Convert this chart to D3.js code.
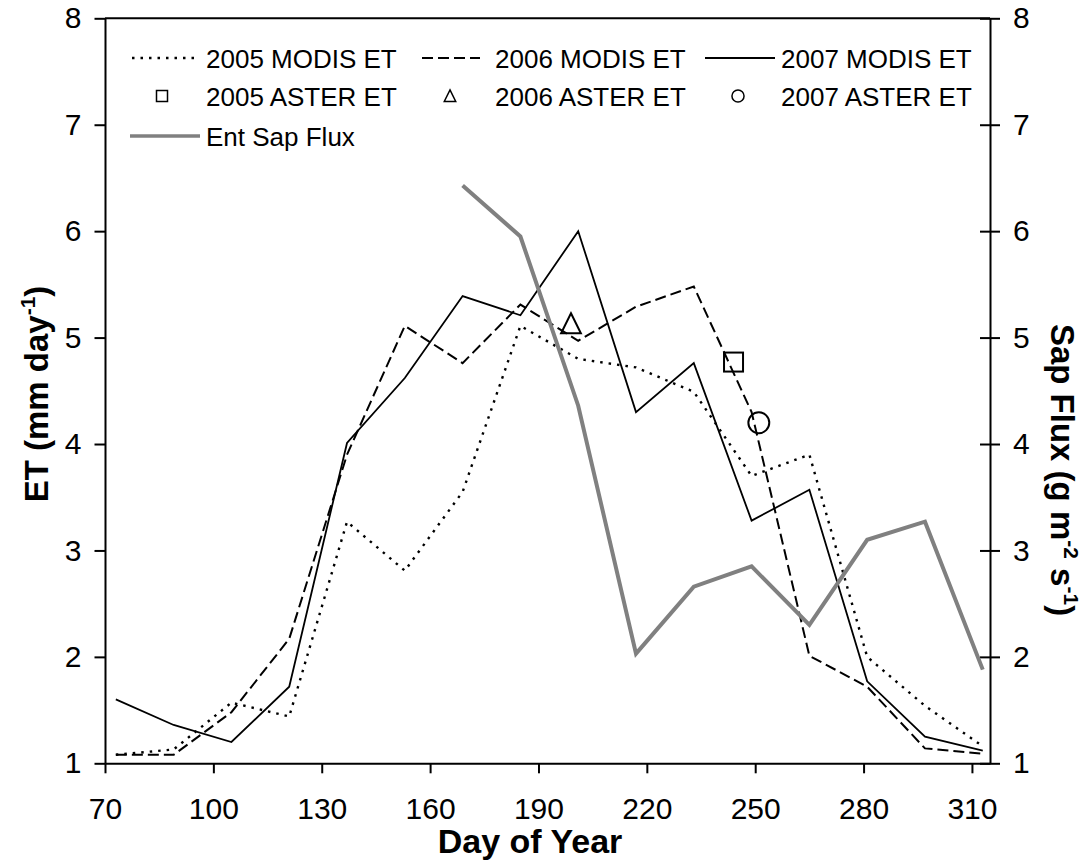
<!DOCTYPE html>
<html lang="en">
<head>
  <meta charset="UTF-8">
  <title>MODIS / ASTER ET and Sap Flux</title>
  <script src="https://d3js.org/d3.v7.min.js"></script>
  <style>
    body {
      margin: 0;
      padding: 0;
      background: #fff;
    }
    svg text {
      font-family: Arial, "Liberation Sans", sans-serif;
      fill: #000;
    }
  </style>
</head>
<body>
  <div id="vis"></div>

  <script>
    // 8-day composite days
    const days = [73, 89, 105, 121, 137, 153, 169, 185, 201, 217, 233, 249, 265, 281, 297, 313];
    const modis2005 = [1.08, 1.13, 1.57, 1.44, 3.27, 2.81, 3.55, 5.11, 4.80, 4.72, 4.49, 3.70, 3.90, 2.00, 1.54, 1.16];
    const modis2006 = [1.08, 1.08, 1.48, 2.17, 3.90, 5.11, 4.76, 5.31, 4.97, 5.29, 5.48, 4.30, 2.01, 1.72, 1.14, 1.09];
    const modis2007 = [1.60, 1.36, 1.20, 1.72, 4.01, 4.62, 5.39, 5.21, 6.00, 4.30, 4.76, 3.28, 3.57, 1.77, 1.25, 1.12];

    const sapDays = [169, 185, 201, 217, 233, 249, 265, 281, 297, 313];
    const sapFlux = [6.43, 5.95, 4.36, 2.03, 2.66, 2.85, 2.30, 3.10, 3.27, 1.88];

    const aster = [
      { year: "2005", day: 244, et: 4.77, shape: "square" },
      { year: "2006", day: 199, et: 5.13, shape: "triangle" },
      { year: "2007", day: 251, et: 4.20, shape: "circle" }
    ];

    const xTicks = [70, 100, 130, 160, 190, 220, 250, 280, 310];
    const yTicks = [1, 2, 3, 4, 5, 6, 7, 8];

    const width = 1090, height = 862;
    const plotLeft = 105, plotRight = 990, plotTop = 18.3, plotBottom = 763.3;

    const svg = d3.select("#vis").append("svg")
      .attr("width", width)
      .attr("height", height);

    const x = d3.scaleLinear().domain([70, 315]).range([plotLeft, plotRight]);
    const y = d3.scaleLinear().domain([1, 8]).range([plotBottom, plotTop]);
    const y2 = d3.scaleLinear().domain([1, 8]).range([plotBottom, plotTop]);

    const lineStyles = {
      dotted: { dash: "2.5,6", width: 2.4, color: "#000" },
      dashed: { dash: "11,5", width: 2, color: "#000" },
      solid: { dash: null, width: 1.8, color: "#000" },
      sap: { dash: null, width: 4, color: "#808080" }
    };

    // axes
    const axisFont = "30px";
    const fmt = d3.format("d");
    const gLeft = svg.append("g")
      .attr("transform", `translate(${plotLeft},0)`)
      .call(d3.axisLeft(y).tickValues(yTicks).tickFormat(fmt).tickSize(10.5).tickSizeOuter(0).tickPadding(13));
    const gRight = svg.append("g")
      .attr("transform", `translate(${plotRight},0)`)
      .call(d3.axisRight(y2).tickValues(yTicks).tickFormat(fmt).tickSize(10).tickSizeOuter(0).tickPadding(13));
    gRight.selectAll(".tick line").attr("x1", -10);
    const gBottom = svg.append("g")
      .attr("transform", `translate(0,${plotBottom})`)
      .call(d3.axisBottom(x).tickValues(xTicks).tickFormat(fmt).tickSize(10).tickSizeOuter(0).tickPadding(24.5));

    [gLeft, gRight, gBottom].forEach(g => {
      g.select(".domain").attr("stroke", "#000").attr("stroke-width", 2);
      g.selectAll(".tick line").attr("stroke", "#000").attr("stroke-width", 2);
      g.selectAll(".tick text")
        .style("font-size", axisFont)
        .style("font-family", "Arial, 'Liberation Sans', sans-serif")
        .attr("fill", "#000");
    });

    svg.append("line")
      .attr("x1", plotLeft).attr("x2", plotRight)
      .attr("y1", plotTop).attr("y2", plotTop)
      .attr("stroke", "#000").attr("stroke-width", 2);

    // axis titles
    const titleFont = "33px";
    const supFont = "21px";
    const yTitle = svg.append("text")
      .attr("transform", "translate(48,394) rotate(-90)")
      .attr("text-anchor", "middle")
      .style("font-size", titleFont)
      .style("font-weight", "bold");
    yTitle.append("tspan").text("ET (mm day");
    yTitle.append("tspan").attr("dy", -13).style("font-size", supFont).text("-1");
    yTitle.append("tspan").attr("dy", 13).text(")");

    const y2Title = svg.append("text")
      .attr("transform", "translate(1051,470) rotate(90)")
      .attr("text-anchor", "middle")
      .style("font-size", titleFont)
      .style("font-weight", "bold");
    y2Title.append("tspan").text("Sap Flux (g m");
    y2Title.append("tspan").attr("dy", -13).style("font-size", supFont).text("-2");
    y2Title.append("tspan").attr("dy", 13).text(" s");
    y2Title.append("tspan").attr("dy", -13).style("font-size", supFont).text("-1");
    y2Title.append("tspan").attr("dy", 13).text(")");

    svg.append("text")
      .attr("x", 530)
      .attr("y", 853)
      .attr("text-anchor", "middle")
      .style("font-size", "34px")
      .style("font-weight", "bold")
      .text("Day of Year");

    // series
    const etLine = d3.line().x(d => x(d[0])).y(d => y(d[1]));
    const sapLine = d3.line().x(d => x(d[0])).y(d => y2(d[1]));

    function drawLine(pts, gen, st) {
      svg.append("path")
        .attr("d", gen(pts))
        .attr("fill", "none")
        .attr("stroke", st.color)
        .attr("stroke-width", st.width)
        .attr("stroke-dasharray", st.dash)
        .attr("stroke-linejoin", "miter");
    }

    drawLine(days.map((d, i) => [d, modis2005[i]]), etLine, lineStyles.dotted);
    drawLine(days.map((d, i) => [d, modis2006[i]]), etLine, lineStyles.dashed);
    drawLine(days.map((d, i) => [d, modis2007[i]]), etLine, lineStyles.solid);

    function drawMarker(g, shape, cx, cy, s) {
      if (shape === "square") {
        g.append("rect")
          .attr("x", cx - s / 2).attr("y", cy - s / 2)
          .attr("width", s).attr("height", s);
      } else if (shape === "triangle") {
        g.append("path")
          .attr("d", `M${cx},${cy - s * 0.55}L${cx + s * 0.52},${cy + s * 0.5}L${cx - s * 0.52},${cy + s * 0.5}Z`);
      } else {
        g.append("circle").attr("cx", cx).attr("cy", cy).attr("r", s * 0.55);
      }
    }

    const markers = svg.append("g")
      .attr("fill", "none")
      .attr("stroke", "#000")
      .attr("stroke-width", 2);
    aster.forEach(a => drawMarker(markers, a.shape, x(a.day), y(a.et), 19));

    drawLine(sapDays.map((d, i) => [d, sapFlux[i]]), sapLine, lineStyles.sap);

    // legend
    const legend = svg.append("g");
    const legendFont = "26px";
    const lineItems = [
      { label: "2005 MODIS ET", st: lineStyles.dotted, x0: 132, x1: 197, tx: 206, cy: 58 },
      { label: "2006 MODIS ET", st: lineStyles.dashed, x0: 422, x1: 480, tx: 495, cy: 58 },
      { label: "2007 MODIS ET", st: lineStyles.solid, x0: 705, x1: 775, tx: 781, cy: 58 },
      { label: "Ent Sap Flux", st: lineStyles.sap, x0: 130, x1: 200, tx: 206, cy: 136 }
    ];
    lineItems.forEach(it => {
      legend.append("line")
        .attr("x1", it.x0).attr("x2", it.x1)
        .attr("y1", it.cy).attr("y2", it.cy)
        .attr("stroke", it.st.color)
        .attr("stroke-width", it.st.width === 4 ? 3.5 : it.st.width)
        .attr("stroke-dasharray", it.st.dash);
      legend.append("text")
        .attr("x", it.tx).attr("y", it.cy + 10)
        .style("font-size", legendFont)
        .text(it.label);
    });

    const markerItems = [
      { label: "2005 ASTER ET", shape: "square", mx: 162, tx: 206 },
      { label: "2006 ASTER ET", shape: "triangle", mx: 450, tx: 495 },
      { label: "2007 ASTER ET", shape: "circle", mx: 738, tx: 781 }
    ];
    const legendMarkers = legend.append("g")
      .attr("fill", "none")
      .attr("stroke", "#000")
      .attr("stroke-width", 1.5);
    markerItems.forEach(it => {
      drawMarker(legendMarkers, it.shape, it.mx, 96, 11);
      legend.append("text")
        .attr("x", it.tx).attr("y", 106)
        .style("font-size", legendFont)
        .text(it.label);
    });
  </script>
</body>
</html>
